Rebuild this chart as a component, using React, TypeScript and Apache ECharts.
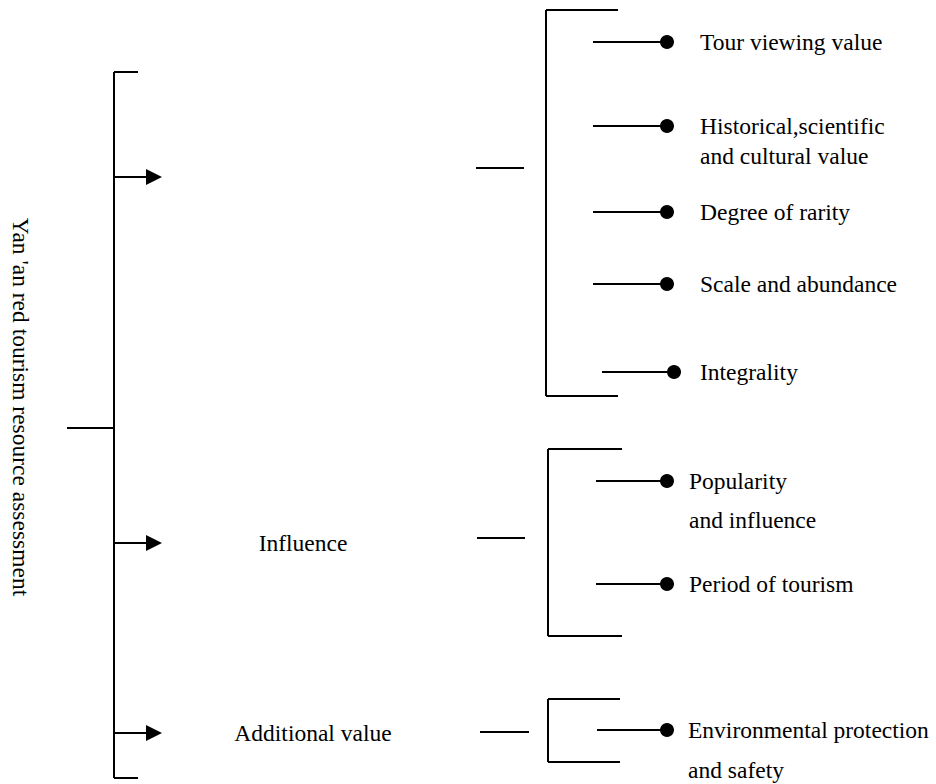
import React, { useEffect, useRef } from "react";
import * as echarts from "echarts";

// ---- data ----
const rootLabel = "Yan 'an red tourism resource assessment";
const categories = ["", "Influence", "Additional value"];
const subItems: string[][][] = [
  [
    ["Tour viewing value"],
    ["Historical,scientific", "and cultural value"],
    ["Degree of rarity"],
    ["Scale and abundance"],
    ["Integrality"],
  ],
  [["Popularity", "and influence"], ["Period of tourism"]],
  [["Environmental protection", "and safety"]],
];

// ---- layout ----
const FONT = "'Liberation Serif', 'Times New Roman', serif";
const FS = 23.5;
const LW = 2;
const rootLayout = { x: 114, top: 72, bottom: 778, tickEnd: 138, stubStart: 67, stubY: 428, labelX: 21, labelY: 407 };
const groupLayout = [
  { arrowY: 177, labelX: 303, dashX0: 476, dashX1: 524, dashY: 168, bx: 546, bTop: 10, bBottom: 396, bTickEnd: 618, textX: 700,
    itemY: [42, 126, 212, 284, 372], lineX0: [593, 593, 593, 593, 602], dotX: [667, 667, 667, 667, 674], gaps: [0, 30, 0, 0, 0] },
  { arrowY: 543, labelX: 303, dashX0: 477, dashX1: 525, dashY: 538, bx: 548, bTop: 449, bBottom: 636, bTickEnd: 622, textX: 689,
    itemY: [481, 584], lineX0: [596, 596], dotX: [667, 667], gaps: [39, 0] },
  { arrowY: 733, labelX: 313, dashX0: 480, dashX1: 529, dashY: 732, bx: 548, bTop: 699, bBottom: 762, bTickEnd: 620, textX: 688,
    itemY: [730], lineX0: [597], dotX: [667], gaps: [40] },
];

function seg(x1: number, y1: number, x2: number, y2: number) {
  return { type: "line", shape: { x1, y1, x2, y2 }, style: { stroke: "#000", lineWidth: LW } };
}
function txt(text: string, x: number, y: number, align: string = "left", extra: any = {}) {
  return {
    type: "text", x, y, ...extra,
    style: { text, fill: "#000", font: `${FS}px ${FONT}`, align, verticalAlign: "middle" },
  };
}

function buildGraphics() {
  const els: any[] = [];
  const r = rootLayout;
  els.push(seg(r.x, r.top, r.x, r.bottom));
  els.push(seg(r.x, r.top, r.tickEnd, r.top));
  els.push(seg(r.x, r.bottom, r.tickEnd, r.bottom));
  els.push(seg(r.stubStart, r.stubY, r.x, r.stubY));
  els.push(txt(rootLabel, r.labelX, r.labelY, "center", { rotation: -Math.PI / 2 }));

  categories.forEach((cat, gi) => {
    const g = groupLayout[gi];
    // arrow
    els.push(seg(r.x, g.arrowY, 148, g.arrowY));
    els.push({ type: "polygon", shape: { points: [[146, g.arrowY - 8], [162, g.arrowY], [146, g.arrowY + 8]] }, style: { fill: "#000" } });
    if (cat) els.push(txt(cat, g.labelX, g.arrowY, "center"));
    // dash
    els.push(seg(g.dashX0, g.dashY, g.dashX1, g.dashY));
    // bracket
    els.push(seg(g.bx, g.bTop, g.bx, g.bBottom));
    els.push(seg(g.bx, g.bTop, g.bTickEnd, g.bTop));
    els.push(seg(g.bx, g.bBottom, g.bTickEnd, g.bBottom));
    // items
    subItems[gi].forEach((lines, ii) => {
      const y = g.itemY[ii];
      els.push(seg(g.lineX0[ii], y, g.dotX[ii], y));
      els.push({ type: "circle", shape: { cx: g.dotX[ii], cy: y, r: 7 }, style: { fill: "#000" } });
      lines.forEach((line, li) => {
        els.push(txt(line, g.textX, y + li * g.gaps[ii]));
      });
    });
  });
  return els;
}

export default function App() {
  const ref = useRef<HTMLDivElement>(null);
  useEffect(() => {
    document.body.style.margin = "0";
    const chart = echarts.init(ref.current!, undefined, { renderer: "svg" });
    chart.setOption({
      animation: false,
      backgroundColor: "#fff",
      graphic: { elements: buildGraphics() },
    });
    return () => chart.dispose();
  }, []);
  return <div ref={ref} style={{ position: "absolute", left: 0, top: 0, width: 936, height: 784 }} />;
}
